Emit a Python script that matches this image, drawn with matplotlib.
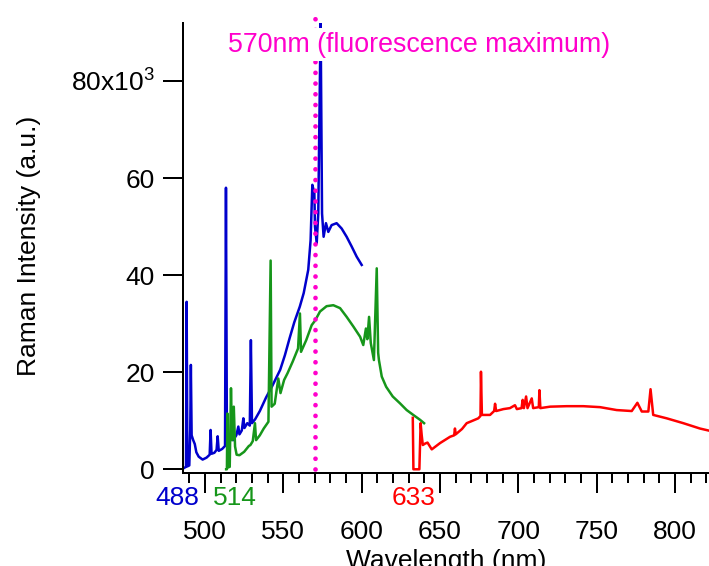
import matplotlib
matplotlib.use("Agg")
import matplotlib.pyplot as plt
from matplotlib.ticker import FixedLocator, MultipleLocator, FuncFormatter

plt.rcParams['font.family'] = ['Liberation Sans', 'DejaVu Sans']
plt.rcParams['mathtext.fontset'] = 'custom'
plt.rcParams['mathtext.rm'] = 'Liberation Sans'
plt.rcParams['mathtext.it'] = 'Liberation Sans'

# spectra: wavelength (nm), intensity (x10^3 a.u.)
blue_nm = [486.8, 487.9, 488.3, 488.8, 490.0, 490.6, 491.0, 491.5, 492.5, 493.5,
           494.5, 496.0, 498.5, 501.0, 503.0, 503.6, 504.2, 506.0, 507.4, 508.1,
           508.8, 511.0, 512.8, 513.4, 514.0, 515.0, 516.5, 518.0, 520.0, 521.3,
           522.0, 523.5, 524.5, 525.2, 527.0, 528.6, 529.3, 530.0, 532.0, 535.0,
           539.0, 543.0, 548.0, 551.0, 554.0, 557.0, 560.5, 563.0, 565.9, 567.4,
           568.5, 569.8, 570.2, 571.3, 572.3, 572.9, 573.8, 574.7, 575.7, 577.2,
           578.7, 580.8, 584.0, 587.2, 590.4, 593.6, 596.8, 600.0]
blue_int = [0.3, 0.5, 34.5, 0.6, 0.8, 8.0, 21.5, 7.0, 6.0, 5.2,
            3.5, 2.6, 2.0, 2.4, 3.0, 8.1, 3.2, 3.4, 4.0, 6.8,
            3.8, 4.2, 4.8, 58.0, 6.0, 5.8, 6.5, 6.0, 7.0, 8.8,
            7.2, 8.0, 10.5, 8.5, 9.5, 9.0, 26.6, 9.5, 10.3, 12.0,
            14.8, 17.2, 20.5, 23.5, 27.0, 30.3, 33.5, 36.3, 41.1, 47.2,
            58.6, 56.9, 50.0, 46.6, 52.7, 69.2, 92.3, 52.7, 47.9, 50.7,
            48.9, 50.3, 50.7, 49.6, 47.9, 45.9, 43.8, 42.1]

green_nm = [513.5, 514.0, 514.3, 514.8, 515.8, 516.6, 517.3, 518.4, 519.2, 520.2,
            522.0, 525.0, 528.0, 529.0, 530.5, 531.9, 532.6, 535.0, 537.5, 540.5,
            541.9, 542.5, 544.5, 546.8, 548.2, 550.5, 552.7, 556.0, 559.4, 560.6,
            561.3, 564.6, 568.1, 570.2, 573.4, 577.6, 581.9, 586.2, 590.4, 594.7,
            599.0, 601.0, 602.7, 603.6, 604.7, 605.8, 607.8, 609.6, 610.5, 611.0,
            612.8, 615.6, 619.8, 624.4, 628.7, 632.9, 637.2, 639.8]
green_int = [0.0, 0.0, 11.5, 0.4, 0.5, 16.7, 6.0, 12.9, 4.7, 3.0,
             2.9, 3.6, 4.8, 5.0, 5.8, 9.5, 6.0, 7.0, 8.4, 9.8,
             43.0, 12.9, 13.5, 18.7, 15.7, 18.4, 19.8, 22.2, 24.9, 32.1,
             24.2, 26.6, 29.7, 30.6, 32.5, 33.6, 33.8, 33.2, 31.4, 29.4,
             27.3, 25.6, 29.0, 26.8, 31.4, 26.0, 22.5, 41.4, 24.0, 22.5,
             19.1, 17.0, 15.0, 13.6, 12.2, 11.2, 10.2, 9.5]

red_nm = [632.6, 633.0, 634.5, 636.8, 637.6, 638.3, 639.0, 640.5, 642.0, 644.7,
          650.0, 656.4, 659.0, 659.5, 660.0, 664.0, 667.0, 670.0, 674.4, 675.8,
          676.1, 676.7, 681.9, 684.5, 685.1, 685.8, 690.4, 694.6, 697.8, 699.0,
          702.0, 702.7, 703.5, 704.9, 705.8, 708.5, 709.4, 713.0, 713.4, 714.0,
          720.2, 730.8, 741.4, 752.1, 762.7, 772.3, 775.9, 778.7, 782.9, 784.3,
          786.0, 794.6, 805.2, 815.8, 821.1]
red_int = [10.6, 0.0, 0.0, 0.0, 9.5, 7.0, 5.0, 5.3, 5.5, 4.1,
           5.4, 6.7, 7.0, 8.4, 7.2, 8.3, 9.5, 9.9, 10.5, 11.0,
           20.1, 11.2, 11.2, 12.0, 13.5, 12.0, 12.4, 12.6, 13.2, 12.4,
           12.6, 14.3, 12.6, 15.0, 12.6, 14.6, 12.6, 12.8, 16.3, 12.6,
           12.9, 13.0, 13.0, 12.8, 12.2, 12.0, 13.7, 11.9, 11.9, 16.5,
           11.2, 10.5, 9.5, 8.4, 8.0]

lasers = [488, 514, 633]
laser_labels = ['488', '514', '633']
fluor_max = 570
yticks = [0, 20, 40, 60, 80]

blue = '#0000CC'
green = '#16961A'
red = '#FF0000'
magenta = '#FF00CC'
fs = 19

fig = plt.figure(figsize=(7.09, 5.66), dpi=100)
ax = fig.add_axes([0.2577, 0.1638, 0.7423, 0.7961])

ax.plot(blue_nm, blue_int, color=blue, lw=1.8)
ax.plot(green_nm, green_int, color=green, lw=1.8)
ax.plot(red_nm, red_int, color=red, lw=1.8)

# dotted marker for the fluorescence maximum
ax.plot([fluor_max, fluor_max], [0, 93.6], color=magenta, lw=3.4,
        linestyle=(0, (0.01, 2.26)), dash_capstyle='round', clip_on=False, zorder=4)

ax.set_xlim(485.8, 821.6)
ax.set_ylim(-0.824, 92.0)

for s in ['top', 'right']:
    ax.spines[s].set_visible(False)
for s in ['left', 'bottom']:
    ax.spines[s].set_linewidth(1.44)

ax.yaxis.set_major_locator(FixedLocator(yticks))
ax.yaxis.set_major_formatter(FuncFormatter(
    lambda v, p: '80x10$^3$' if v == 80 else '%d' % v))
ax.xaxis.set_major_locator(MultipleLocator(50))
ax.xaxis.set_minor_locator(MultipleLocator(10))

ax.tick_params(axis='y', direction='out', length=14.4, width=1.44, pad=5.5, labelsize=fs)
ax.tick_params(axis='x', which='major', direction='out', length=14.4, width=1.44,
               pad=19, labelsize=fs)
ax.tick_params(axis='x', which='minor', direction='out', length=7.2, width=1.44)

ax.set_xlabel('Wavelength (nm)', fontsize=fs, va='top')
ax.xaxis.set_label_coords(0.5, -0.168)
ax.set_ylabel('Raman Intensity (a.u.)', fontsize=fs)
ax.yaxis.set_label_coords(-0.269, 0.505)

# excitation wavelengths under the axis
offsets = [-6.2, 5.5, 0]
for nm, lab, c, dx in zip(lasers, laser_labels, [blue, green, red], offsets):
    ax.annotate(lab, xy=(nm, 0), xycoords=('data', 'axes fraction'),
                xytext=(dx, -22.5), textcoords='offset points',
                ha='center', va='baseline', color=c, fontsize=fs)

fig.text(228 / 709, 1 - 51.7 / 566, '570nm (fluorescence maximum)', color=magenta,
         fontsize=19.3, ha='left', va='baseline', zorder=10,
         bbox=dict(facecolor='white', edgecolor='none', pad=2.5))

fig.savefig('out.png', dpi=100)
